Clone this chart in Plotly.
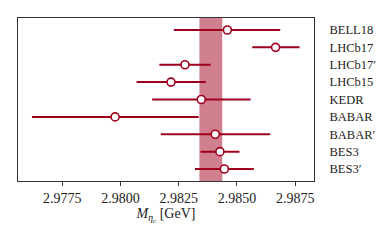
import plotly.graph_objects as go

# eta_c mass measurements (GeV)
experiments = ['BELL18', 'LHCb17', 'LHCb17′', 'LHCb15', 'KEDR',
               'BABAR', 'BABAR′', 'BES3', 'BES3′']
mass = [2.98459, 2.98666, 2.98277, 2.98217, 2.98347,
        2.97977, 2.98407, 2.98427, 2.98446]
err_low = [0.00230, 0.00100, 0.00110, 0.00148, 0.00211,
           0.00357, 0.00234, 0.00083, 0.00126]
err_high = [0.00227, 0.00103, 0.00111, 0.00149, 0.00212,
            0.00359, 0.00236, 0.00084, 0.00127]

# average band
band_lo = 2.98339
band_hi = 2.98437

RED = '#a0001e'
FONT = 'Liberation Serif'

fig = go.Figure()

fig.add_trace(go.Scatter(
    x=mass,
    y=experiments,
    mode='markers',
    marker=dict(color='white', size=8, line=dict(color=RED, width=1.6)),
    error_x=dict(type='data', symmetric=False, array=err_high,
                 arrayminus=err_low, color=RED, thickness=2, width=0),
    showlegend=False,
))

fig.add_shape(type='rect', xref='x', yref='paper', x0=band_lo, x1=band_hi,
              y0=0, y1=1, fillcolor='rgba(160,0,30,0.5)', line_width=0,
              layer='below')

# page body adds an 8px margin, so the figure is a bit smaller than the window
fig.update_layout(
    width=382, height=233,
    margin=dict(l=10, r=76, t=10, b=60, autoexpand=False),
    paper_bgcolor='white',
    plot_bgcolor='white',
    font=dict(family=FONT, size=14, color='#222'),
    xaxis=dict(
        range=[2.9756, 2.98831],
        tickvals=[2.9775, 2.98, 2.9825, 2.985, 2.9875],
        ticktext=['2.9775', '2.9800', '2.9825', '2.9850', '2.9875'],
        ticks='outside', ticklen=4, tickcolor='#333',
        showgrid=False, zeroline=False, automargin=False,
        showline=True, linecolor='#333', linewidth=1, mirror=True,
        title=dict(text='<i>M</i><sub><i>η</i><sub>c</sub></sub> [GeV]',
                   font=dict(size=14), standoff=1),
    ),
    yaxis=dict(
        categoryorder='array', categoryarray=experiments,
        autorange=False, range=[8.69, -0.69], automargin=False,
        side='right', ticks='', showgrid=False, zeroline=False,
        showline=True, linecolor='#333', linewidth=1, mirror=True,
        ticklabelstandoff=12, tickfont=dict(size=12.5),
    ),
)

fig.write_html('out.html')
